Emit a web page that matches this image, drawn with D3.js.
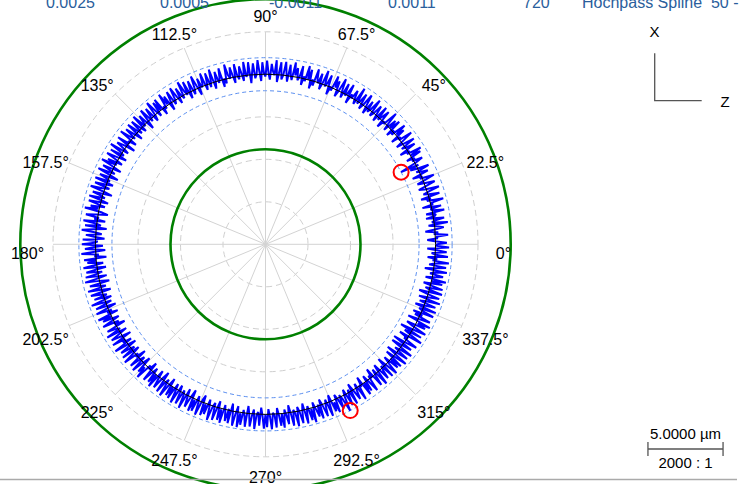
<!DOCTYPE html>
<html><head><meta charset="utf-8">
<script src="https://cdn.jsdelivr.net/npm/d3@7"></script>
<style>body{margin:0;background:#fff;}svg{display:block;font-family:"Liberation Sans",Arial,sans-serif;}</style>
</head><body>
<svg id="chart" width="745" height="484"></svg>
<script>
// ---- data ----
const headerValues = ["0.0025", "0.0005", "-0.0011", "0.0011", "720", "Hochpass Spline  50 -"];
const angleTicks = [0, 22.5, 45, 67.5, 90, 112.5, 135, 157.5, 180, 202.5, 225, 247.5, 270, 292.5, 315, 337.5];
const tolerance = [-5, 5];          // µm, green circles
const scaleBarValue = 5;            // µm
const scaleBarLabel = "5.0000 µm";
const magnification = "2000 : 1";
const axisLabels = ["X", "Z"];
// radial deviation (µm), 720 points, 0.5° apart
const deviation = [
 0.10,0.75,-0.05,-0.55,0.15,0.05,0.85,-0.10,0.20,-0.65,0.00,0.60,0.10,-0.40,0.90,-0.15,0.05,0.70,-0.50,0.10,
 0.20,-0.45,0.80,0.05,-0.10,0.65,-0.60,0.15,0.00,0.90,-0.20,0.10,-0.55,0.75,0.05,-0.30,0.15,0.85,-0.10,-0.50,
 0.10,0.70,0.00,-0.45,0.20,0.80,-0.15,0.05,-0.60,0.55,0.10,-0.20,0.75,-0.05,-0.50,0.15,-1.10,0.05,0.60,-0.10,
 0.15,-0.40,0.70,0.00,0.85,-0.15,0.10,-0.55,0.65,0.05,-0.25,0.80,0.10,-0.45,0.20,0.90,-0.05,0.15,-0.50,0.60,
 0.05,0.85,-0.20,0.10,-0.45,0.75,0.00,0.60,-0.35,0.15,0.95,-0.10,0.05,-0.50,0.70,0.20,-0.15,0.80,-0.40,0.10,
 0.65,-0.05,-0.30,0.90,0.10,-0.20,0.55,-0.45,0.15,0.85,0.00,-0.35,0.70,0.10,-0.15,0.95,-0.30,0.05,0.60,-0.05,
 0.20,-0.50,0.80,0.05,-0.10,0.70,-0.35,0.15,0.90,0.00,-0.45,0.60,0.10,0.85,-0.20,0.05,-0.55,0.75,0.15,-0.10,
 0.95,0.05,-0.40,0.65,-0.05,0.20,0.85,-0.30,0.10,-0.55,0.70,0.00,0.90,-0.15,0.15,-0.45,0.80,0.05,-0.20,0.60,
 0.10,0.95,-0.25,0.05,0.75,-0.40,0.15,0.90,0.00,-0.30,0.85,0.10,-0.50,0.95,-0.05,0.20,0.70,-0.35,0.10,0.90,
 -0.15,0.05,0.80,-0.45,0.15,0.95,0.00,-0.25,0.75,0.10,-0.55,0.85,0.05,-0.10,0.90,-0.35,0.15,0.65,-0.20,0.05,
 0.85,-0.40,0.10,0.70,-0.05,0.20,0.95,-0.30,0.05,-0.50,0.80,0.10,-0.15,0.65,0.00,-0.45,0.90,0.15,-0.25,0.75,
 0.05,-0.35,0.85,0.10,-0.05,0.60,-0.50,0.15,0.90,0.00,-0.30,0.70,0.10,-0.45,0.80,-0.10,0.20,0.95,-0.20,0.05,
 0.65,-0.40,0.10,0.85,0.00,-0.25,0.75,0.15,-0.50,0.60,0.05,0.90,-0.15,0.10,-0.45,0.80,0.00,0.70,-0.30,0.15,
 0.95,-0.05,-0.40,0.70,0.10,-0.20,0.85,0.05,-0.55,0.65,0.15,-0.10,0.90,-0.35,0.00,0.75,-0.25,0.10,0.80,-0.50,
 0.05,0.70,-0.15,0.20,0.90,-0.45,0.10,-0.05,0.80,-0.60,0.15,0.65,0.00,-0.35,0.95,0.10,-0.20,0.75,-0.50,0.05,
 0.85,0.10,-0.40,0.60,-0.10,0.95,0.05,-0.55,0.70,0.15,-0.25,0.90,0.00,-0.60,0.65,0.10,-0.15,0.85,-0.45,0.05,
 0.75,-0.30,0.15,0.95,-0.05,-0.60,0.70,0.10,-0.20,0.85,0.00,-0.50,0.80,0.15,-0.35,0.60,0.05,0.95,-0.25,-0.65,
 0.10,0.80,-0.10,0.20,-0.55,0.90,0.05,-0.30,0.75,-0.70,0.15,0.95,0.00,-0.40,0.65,0.10,-0.60,0.85,-0.15,0.05,
 0.90,-0.50,0.15,0.70,-0.65,0.05,0.95,-0.20,0.10,-0.70,0.80,0.00,0.60,-0.45,0.15,0.90,-0.60,0.05,0.75,-0.30,
 0.10,0.85,-0.55,0.05,0.95,-0.15,-0.65,0.70,0.10,-0.35,0.90,0.00,-0.60,0.80,0.15,-0.25,0.65,-0.50,0.05,0.95,
 -0.40,0.10,0.75,-0.60,0.05,0.85,-0.20,0.15,-0.55,0.90,0.00,0.65,-0.45,0.10,0.80,-0.30,0.05,-0.65,0.70,0.15,
 -0.15,0.90,-0.50,0.05,0.75,0.10,-0.60,0.85,-0.05,0.20,-0.40,0.95,0.00,-0.55,0.70,0.10,-0.25,0.80,-0.45,0.05,
 0.90,-0.15,0.10,-0.60,0.75,0.05,-0.30,0.85,0.00,-0.50,0.65,0.15,0.95,-0.20,0.05,-0.55,0.80,0.10,-0.35,0.70,
 0.00,0.90,-0.45,0.15,0.75,-0.10,-0.60,0.85,0.05,-0.25,0.95,0.10,-0.50,0.70,0.00,0.80,-0.35,0.15,0.95,-0.40,
 0.05,0.85,-0.20,0.10,1.00,-0.45,0.15,0.75,-0.05,-0.55,0.90,0.05,0.80,-0.30,0.10,0.95,-0.15,-0.50,0.85,0.05,
 0.70,-0.35,0.15,1.00,0.00,-0.25,0.90,0.10,-0.45,0.80,0.05,0.95,-0.30,0.15,0.75,-0.10,0.85,-0.50,0.05,0.95,
 0.10,-0.40,1.00,0.05,0.80,-0.20,0.15,0.90,-0.50,0.00,0.85,0.10,-0.30,1.00,0.05,-0.15,0.75,-0.45,0.10,0.95,
 0.00,0.85,-0.35,0.15,1.00,-0.10,0.05,0.90,-0.40,0.10,0.80,0.00,0.95,-0.25,0.15,0.75,-0.50,0.05,0.90,-0.15,
 0.10,1.00,-0.30,0.05,0.85,0.00,-0.45,0.95,0.10,-0.20,0.80,0.05,1.00,-0.35,0.15,0.70,-0.10,0.90,-0.40,0.05,
 0.85,0.10,-0.25,0.95,0.00,-0.45,0.75,0.15,0.90,-0.30,0.05,0.80,-0.15,0.20,1.10,0.05,-0.35,0.85,0.10,-0.20,
 0.90,-0.50,0.05,0.75,0.15,-0.30,0.95,-0.05,0.10,-0.55,0.85,0.00,0.70,-0.40,0.15,0.90,-0.20,0.05,-0.60,0.80,
 0.10,-0.35,0.95,0.00,-0.50,0.75,0.15,-0.15,0.85,-0.60,0.05,0.90,0.10,-0.40,0.70,-0.05,0.80,-0.55,0.15,0.95,
 -0.70,0.05,0.80,-0.30,0.10,0.90,-0.75,0.00,0.65,-0.80,0.15,0.85,-0.20,0.05,-0.65,0.95,0.10,-0.45,0.75,-0.85,
 0.05,0.90,-0.15,-0.60,0.70,0.10,0.95,-0.70,0.00,0.80,-0.35,0.15,-0.55,0.85,0.05,-0.25,0.90,-0.60,0.10,0.75,
 -0.40,0.05,0.95,-0.55,0.15,0.80,-0.10,-0.65,0.90,0.05,-0.30,0.85,0.10,-0.50,0.75,0.00,0.95,-0.45,0.15,0.70,
 -0.20,0.05,0.90,-0.60,0.10,0.80,-0.35,0.00,0.95,-0.15,0.15,-0.50,0.85,0.05,-0.25,0.75,0.10,-0.55,0.90,0.05
];
const angles = deviation.map((d, i) => i * 360 / deviation.length);

// ---- layout ----
const svg = d3.select("#chart");
const cx = 265.5, cy = 244.3;
const gridR = 212.5;
const r = d3.scaleLinear().domain(tolerance).range([95, 245.2]);   // µm -> px radius
const a = d3.scaleLinear().domain([0, 360]).range([Math.PI / 2, Math.PI / 2 - 2 * Math.PI]); // deg -> d3 radial angle
const rad = d => d * Math.PI / 180;

const g = svg.append("g").attr("transform", `translate(${cx},${cy})`);

// grid rings
const rings = [0.2, 0.4, 0.6, 0.8, 1.0];
g.selectAll("circle.ring").data(rings).join("circle")
  .attr("r", d => d * gridR).attr("fill", "none")
  .attr("stroke", "#cfcfcf").attr("stroke-width", 1).attr("stroke-dasharray", "6,4");
// spokes
g.selectAll("line.spoke").data(angleTicks).join("line")
  .attr("x1", 0).attr("y1", 0)
  .attr("x2", d => gridR * Math.cos(rad(d)))
  .attr("y2", d => -gridR * Math.sin(rad(d)))
  .attr("stroke", "#d3d3d3").attr("stroke-width", 1);

// tolerance circles (green)
g.selectAll("circle.tol").data(tolerance).join("circle")
  .attr("r", d => r(d)).attr("fill", "none")
  .attr("stroke", "#008000").attr("stroke-width", 2.6);

// min/max envelope (blue dashed)
const ext = d3.extent(deviation);
g.selectAll("circle.env").data(ext).join("circle")
  .attr("r", d => r(d)).attr("fill", "none")
  .attr("stroke", "#5b8ff0").attr("stroke-width", 1).attr("stroke-dasharray", "4,3");

// profile
const line = d3.lineRadial().angle((d, i) => a(angles[i])).radius(d => r(d)).curve(d3.curveLinearClosed);
g.append("path").datum(deviation).attr("d", line)
  .attr("fill", "none").attr("stroke", "#0000ff").attr("stroke-width", 2.0).attr("stroke-linejoin", "bevel");

// reference circle (black)
g.append("circle").attr("r", r(0)).attr("fill", "none").attr("stroke", "#000").attr("stroke-width", 1);

// min / max markers
const iMin = deviation.indexOf(ext[0]), iMax = deviation.indexOf(ext[1]);
g.selectAll("circle.mark").data([iMin, iMax]).join("circle")
  .attr("cx", i => r(deviation[i]) * Math.cos(rad(angles[i])))
  .attr("cy", i => -r(deviation[i]) * Math.sin(rad(angles[i])))
  .attr("r", 7.5).attr("fill", "none").attr("stroke", "#ff0000").attr("stroke-width", 2);

// angle labels
g.selectAll("text.ang").data(angleTicks).join("text")
  .attr("x", d => 238 * Math.cos(rad(d)))
  .attr("y", d => { const s = Math.sin(rad(d)); return -(s >= 0 ? 238 : 224) * s + 9.5 + 5.7; })
  .attr("text-anchor", "middle").attr("font-size", 16).attr("fill", "#000")
  .text(d => d + "°");

// header row
const headerX = [46, 160, 269, 388, 523, 582];
svg.selectAll("text.hdr").data(headerValues).join("text")
  .attr("x", (d, i) => headerX[i]).attr("y", 7.5)
  .attr("font-size", 16).attr("fill", "#2a5e9c")
  .style("white-space", "pre")
  .text(d => d);

// axis indicator
svg.append("path").attr("d", "M654.7,53.3V100.7H701.7").attr("fill", "none").attr("stroke", "#555").attr("stroke-width", 1.3);
svg.append("text").attr("x", 654.5).attr("y", 36.7).attr("text-anchor", "middle").attr("font-size", 15).attr("fill", "#000").text(axisLabels[0]);
svg.append("text").attr("x", 725).attr("y", 106.7).attr("text-anchor", "middle").attr("font-size", 15).attr("fill", "#000").text(axisLabels[1]);

// scale bar
const barLen = r(scaleBarValue) - r(0);
const bx = 685.5, by = 449;
svg.append("path")
  .attr("d", `M${bx - barLen / 2},${by - 7}V${by + 7}M${bx - barLen / 2},${by}H${bx + barLen / 2}M${bx + barLen / 2},${by - 7}V${by + 7}`)
  .attr("fill", "none").attr("stroke", "#555").attr("stroke-width", 1.3);
svg.append("text").attr("x", bx).attr("y", 439).attr("text-anchor", "middle").attr("font-size", 15).attr("fill", "#000").text(scaleBarLabel);
svg.append("text").attr("x", bx).attr("y", 467.5).attr("text-anchor", "middle").attr("font-size", 15).attr("fill", "#000")
  .style("white-space", "pre").text(magnification);

// bottom rule
svg.append("line").attr("x1", 0).attr("x2", 737).attr("y1", 479.5).attr("y2", 479.5).attr("stroke", "#aaa").attr("stroke-width", 1.5);
</script>
</body></html>
